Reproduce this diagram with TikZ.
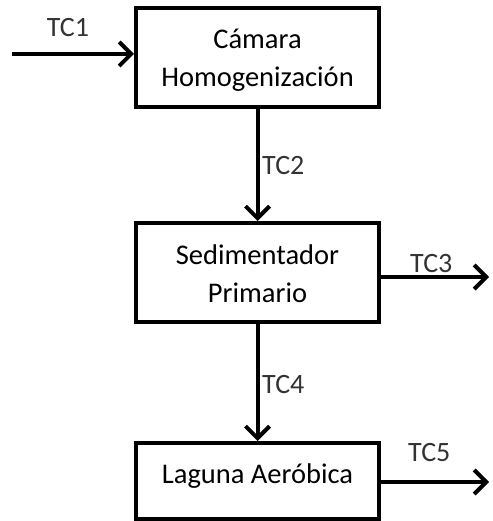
\documentclass[tikz,border=0pt]{standalone}
\usepackage{fontspec}
\setmainfont{Carlito}
\usetikzlibrary{arrows.meta}
\tikzset{
  box/.style={draw=black, line width=4pt, minimum width=243pt, inner sep=0pt, fill=white},
  boxtext/.style={anchor=base, inner sep=0pt, font=\fontsize{28.5}{38}\selectfont},
  lbl/.style={anchor=base west, inner sep=0pt, font=\fontsize{28}{34}\selectfont, text=black!80},
  flow/.style={line width=4pt, -{Straight Barb[length=12pt, width=24pt, line width=4pt]}}
}
\begin{document}
\begin{tikzpicture}[x=1pt, y=-1pt]
\useasboundingbox[fill=white] (0,0) rectangle (492,521);
\node[box, minimum height=99pt] (b1) at (257.5,57.5) {};
\node[box, minimum height=99pt] (b2) at (257.5,272.5) {};
\node[box, minimum height=76pt] (b3) at (257.5,481) {};
\node[boxtext] (t1a) at (257.5,49) {Cámara};
\node[boxtext] (t1b) at (257.5,87) {Homogenización};
\node[boxtext] (t2a) at (257.5,264) {Sedimentador};
\node[boxtext] (t2b) at (257.5,302) {Primario};
\node[boxtext] (t3) at (257.5,483) {Laguna Aeróbica};
\coordinate (in1) at (12,54);
\coordinate (out3) at (489,277);
\coordinate (out5) at (489,482);
\draw[flow] (in1) -- (in1 -| b1.west);
\draw[flow] (b1.south) -- (b2.north);
\draw[flow] (b2.south) -- (b3.north);
\draw[flow] (b2.east |- out3) -- (out3);
\draw[flow] (b3.east |- out5) -- (out5);
\node[lbl, anchor=base] (l1) at (68,37) {TC1};
\node[lbl] (l2) at (262,175) {TC2};
\node[lbl] (l3) at (410,272) {TC3};
\node[lbl] (l4) at (262,393) {TC4};
\node[lbl] (l5) at (408,461) {TC5};
\end{tikzpicture}
\end{document}
